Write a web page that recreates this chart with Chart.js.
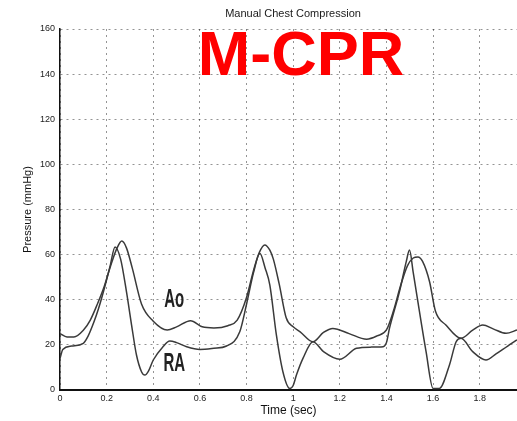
<!DOCTYPE html>
<html>
<head>
<meta charset="utf-8">
<script src="https://cdn.jsdelivr.net/npm/chart.js@4.4.0/dist/chart.umd.min.js"></script>
<style>
html, body { margin: 0; padding: 0; background: #fff; }
#wrap { position: relative; width: 517px; height: 421px; }
</style>
</head>
<body>
<div id="wrap"><canvas id="chart" width="517" height="421"></canvas></div>
<script>
// aortic pressure (Ao)
let aoTime = [0, 0.03, 0.06, 0.1, 0.13, 0.16, 0.19, 0.22, 0.245, 0.265, 0.285, 0.31, 0.35, 0.4, 0.46, 0.5, 0.56, 0.61, 0.66, 0.72, 0.76, 0.8, 0.83, 0.855, 0.878, 0.9, 0.915, 0.94, 0.97, 1.0, 1.03, 1.085, 1.13, 1.17, 1.24, 1.315, 1.36, 1.4, 1.43, 1.46, 1.49, 1.515, 1.535, 1.555, 1.585, 1.61, 1.655, 1.72, 1.77, 1.813, 1.86, 1.913, 1.96];
let aoPressure = [25, 23.5, 23.5, 26.5, 31, 38, 46, 56, 63, 66, 63, 54, 38, 30.5, 26.6, 28, 30.7, 28, 27.5, 28.5, 31, 41, 53, 61, 64.3, 62, 58, 47, 32, 28, 25.8, 21.4, 25.5, 27.3, 25, 22.5, 24, 26.6, 35, 46, 55, 58.5, 59, 57, 48, 35, 28.8, 22.9, 26.5, 28.8, 27, 25.1, 26.6];

// right atrial pressure (RA)
let raTime = [0, 0.012, 0.05, 0.1, 0.121, 0.145, 0.165, 0.19, 0.215, 0.236, 0.26, 0.285, 0.307, 0.328, 0.35, 0.364, 0.38, 0.4, 0.44, 0.471, 0.5, 0.543, 0.6, 0.66, 0.714, 0.771, 0.8, 0.83, 0.857, 0.88, 0.9, 0.928, 0.956, 0.985, 1.0, 1.014, 1.042, 1.085, 1.13, 1.2, 1.272, 1.33, 1.386, 1.4, 1.413, 1.456, 1.485, 1.499, 1.515, 1.528, 1.57, 1.6, 1.627, 1.67, 1.699, 1.72, 1.77, 1.827, 1.87, 1.92, 1.96];
let raPressure = [14, 18, 19.5, 20.7, 24, 30, 36, 45, 55, 63.4, 58, 43.6, 28.8, 15.5, 8, 6.6, 8.5, 13.3, 19, 21.7, 21, 19.2, 18, 18.5, 19.5, 25.8, 38, 52, 60.6, 54, 46.5, 24.4, 8.1, 0.7, 2, 6.6, 14, 21.4, 17, 13.6, 18.5, 19, 19.2, 21, 27.3, 43.6, 56.9, 62, 52, 43.6, 17, 0.7, 0.7, 11, 21.4, 22.9, 17, 13.3, 16, 19.5, 22.2];

let xTicks = [0, 0.2, 0.4, 0.6, 0.8, 1, 1.2, 1.4, 1.6, 1.8];
let yTicks = [0, 20, 40, 60, 80, 100, 120, 140, 160];

let curveNames = ['Ao', 'RA'];
let nameTime = [0.49, 0.49];
let namePressure = [40, 11.5];

const toPoints = (xs, ys) => xs.map((t, i) => ({ x: t, y: ys[i] }));

const traceStyle = {
    borderColor: '#3a3a3a',
    borderWidth: 1.5,
    pointRadius: 0,
    fill: false,
    cubicInterpolationMode: 'monotone'
};

const gridStyle = {
    color: 'rgba(0,0,0,0.42)',
    lineWidth: 1,
    drawTicks: false
};

const textPlugin = {
    id: 'texts',
    afterDatasetsDraw(chart) {
        const { ctx, scales } = chart;
        ctx.save();
        ctx.fillStyle = '#222';
        ctx.font = 'bold 25px "Liberation Sans"';
        ctx.textAlign = 'center';
        ctx.textBaseline = 'middle';
        curveNames.forEach((name, i) => {
            const px = scales.x.getPixelForValue(nameTime[i]);
            const py = scales.y.getPixelForValue(namePressure[i]);
            ctx.save();
            ctx.translate(px, py);
            ctx.scale(0.6, 1);
            ctx.fillText(name, 0, 0);
            ctx.restore();
        });
        ctx.restore();
    },
    afterDraw(chart) {
        const ctx = chart.ctx;
        ctx.save();
        ctx.textAlign = 'center';
        ctx.textBaseline = 'middle';
        ctx.fillStyle = '#1a1a1a';
        ctx.font = '11px "Liberation Sans"';
        ctx.fillText('Manual Chest Compression', 293, 14);

        ctx.fillStyle = '#ff0000';
        ctx.font = 'bold 63px "Liberation Sans"';
        ctx.textBaseline = 'alphabetic';
        ctx.fillText('M-CPR', 301, 75);
        ctx.restore();
    }
};

new Chart(document.getElementById('chart'), {
    type: 'line',
    data: {
        datasets: [
            Object.assign({ label: 'Ao', data: toPoints(aoTime, aoPressure) }, traceStyle),
            Object.assign({ label: 'RA', data: toPoints(raTime, raPressure) }, traceStyle)
        ]
    },
    options: {
        responsive: false,
        animation: false,
        layout: { padding: { top: 29, left: 0, right: 0, bottom: 0 } },
        plugins: {
            legend: { display: false },
            title: { display: false },
            tooltip: { enabled: false }
        },
        scales: {
            x: {
                type: 'linear',
                min: 0,
                max: 1.96,
                afterFit: (axis) => { axis.height = 31; },
                afterBuildTicks: (axis) => { axis.ticks = xTicks.map(v => ({ value: v })); },
                ticks: {
                    padding: 3,
                    color: '#222',
                    font: { family: 'Liberation Sans', size: 9 },
                    callback: (v) => String(+Number(v).toFixed(1))
                },
                grid: gridStyle,
                border: { display: true, color: '#111', width: 2, dash: [2, 4] },
                title: {
                    display: true,
                    text: 'Time (sec)',
                    color: '#111',
                    font: { family: 'Liberation Sans', size: 12 },
                    padding: { top: 0, bottom: 3 }
                }
            },
            y: {
                min: 0,
                max: 160,
                afterFit: (axis) => { axis.width = 60; },
                afterBuildTicks: (axis) => { axis.ticks = yTicks.map(v => ({ value: v })); },
                ticks: {
                    padding: 5,
                    color: '#222',
                    font: { family: 'Liberation Sans', size: 9 }
                },
                grid: gridStyle,
                border: { display: true, color: '#111', width: 1.5, dash: [2, 4] },
                title: {
                    display: true,
                    text: 'Pressure (mmHg)',
                    color: '#111',
                    font: { family: 'Liberation Sans', size: 11 },
                    padding: { top: 21, bottom: 0 }
                }
            }
        }
    },
    plugins: [textPlugin]
});
</script>
</body>
</html>
